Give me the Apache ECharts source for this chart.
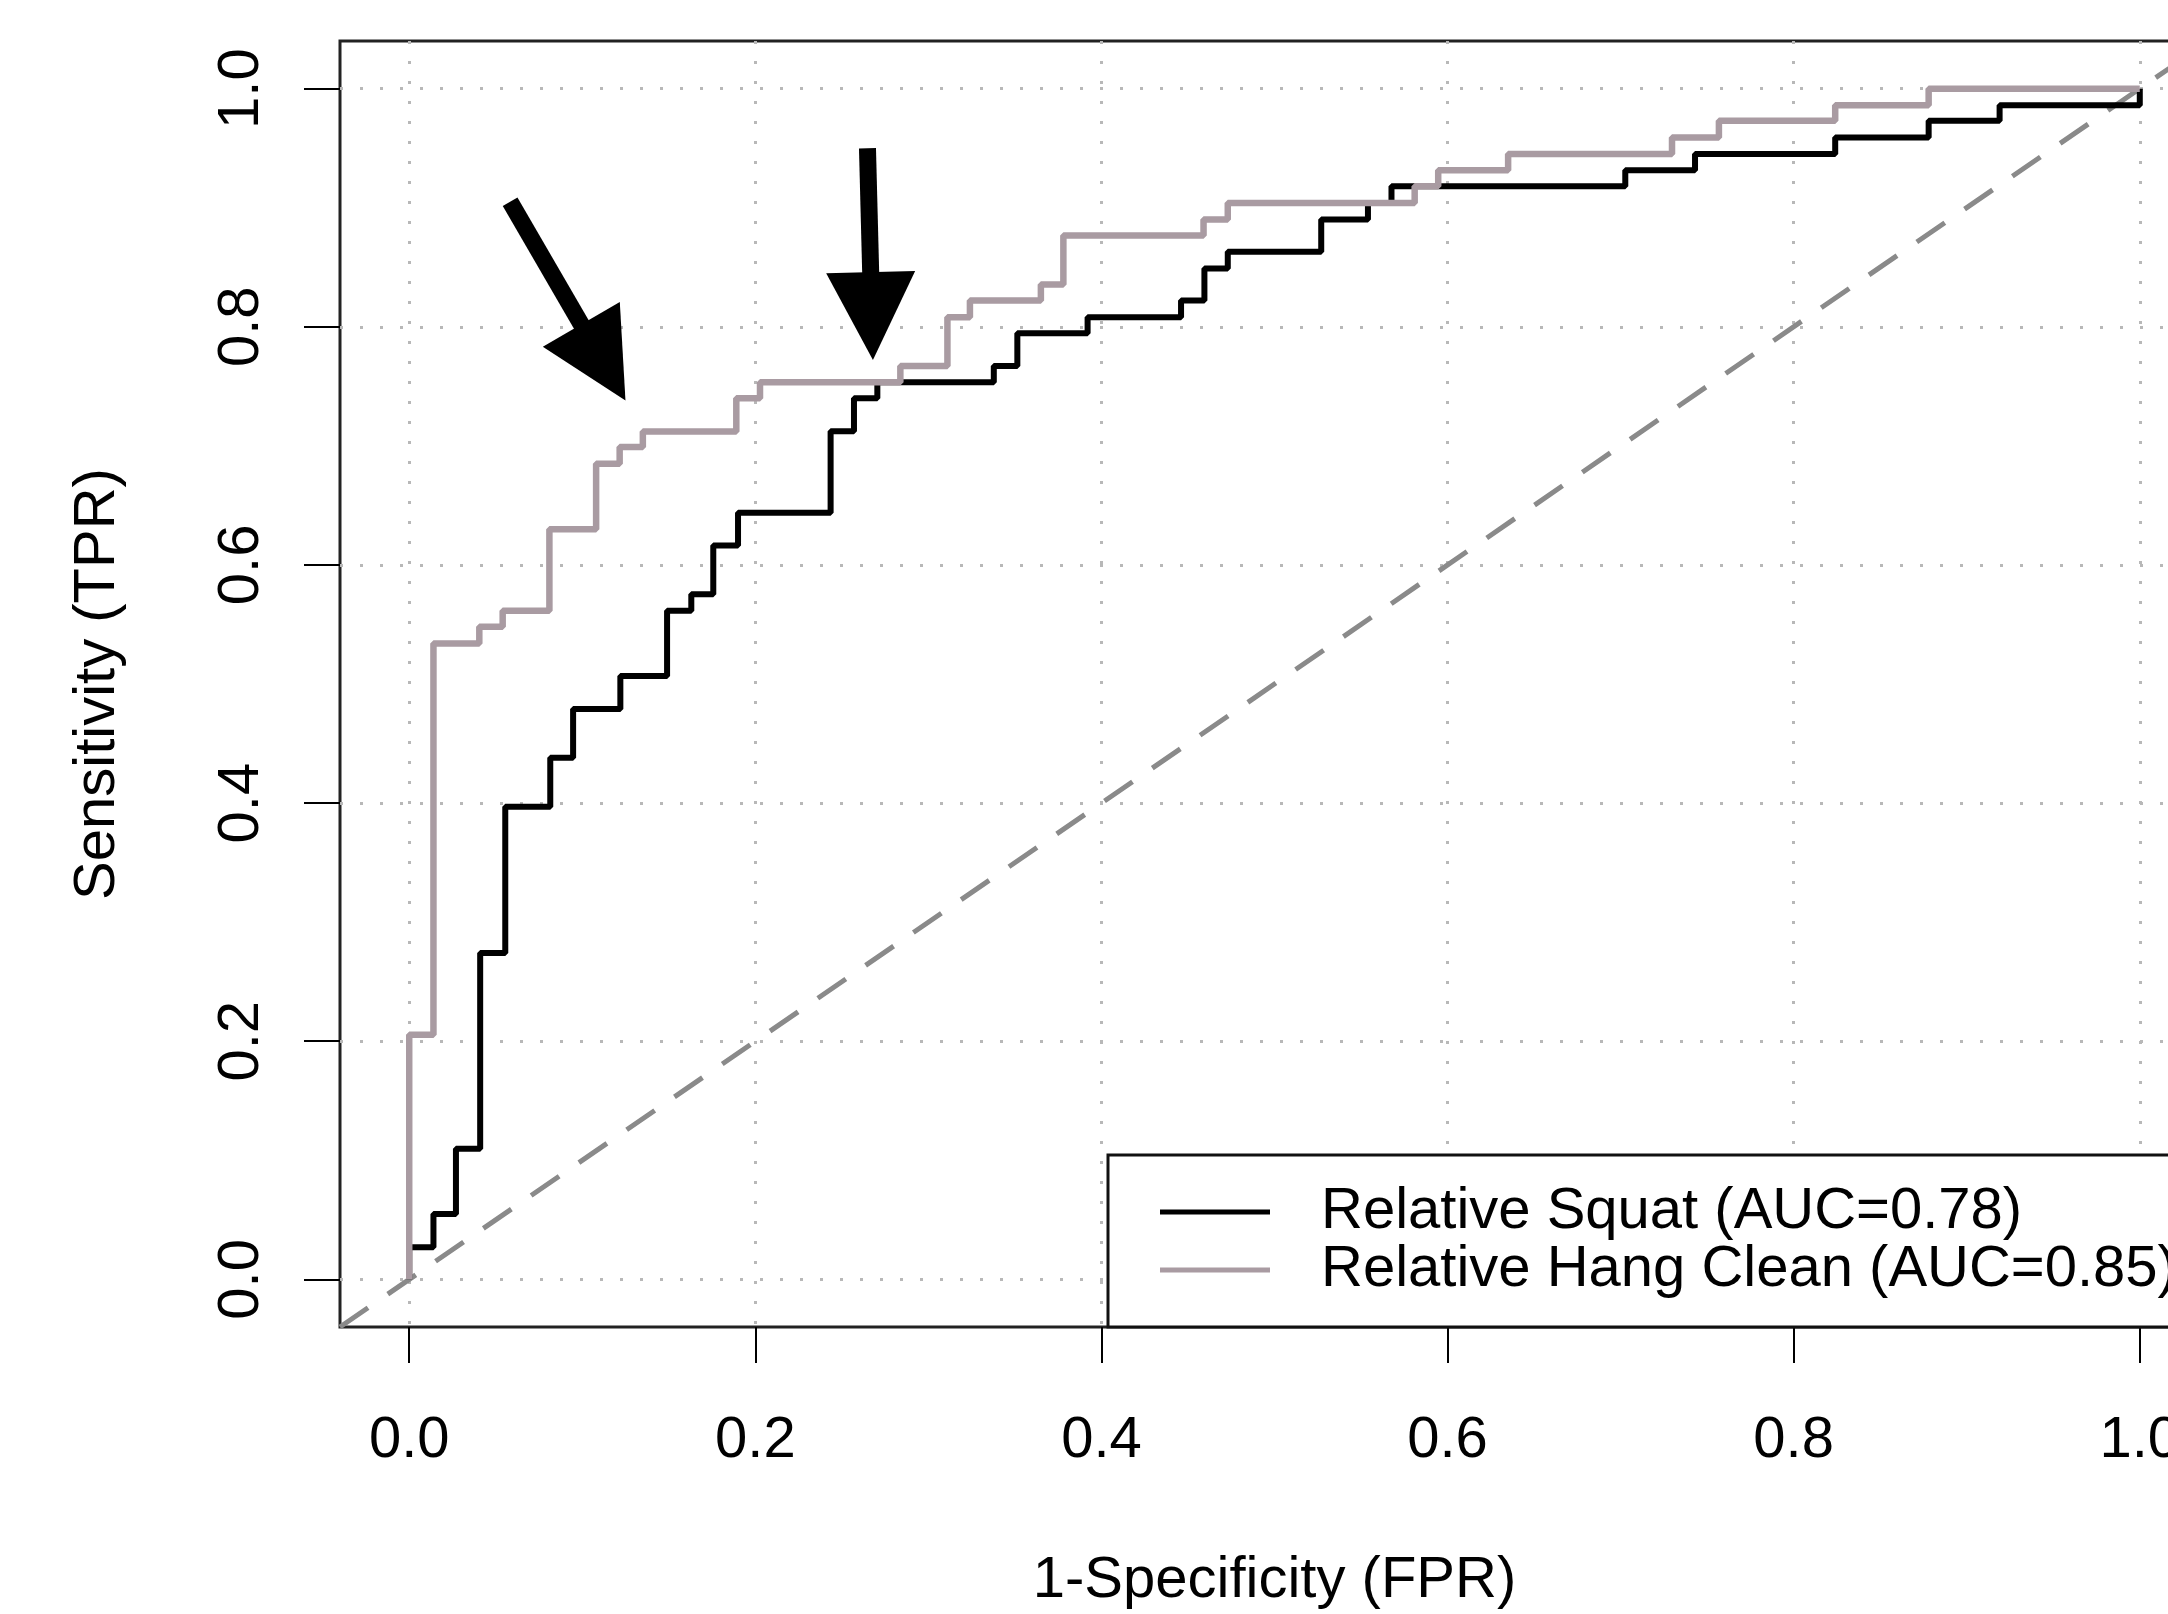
<!DOCTYPE html>
<html>
<head>
<meta charset="utf-8">
<title>ROC</title>
<script src="https://cdn.jsdelivr.net/npm/echarts@6/dist/echarts.min.js"></script>
<style>
  html, body { margin: 0; padding: 0; background: #fff; }
  #rocChart { width: 2168px; height: 1614px; }
</style>
</head>
<body>
<div id="rocChart"></div>
<script>
// tick positions shared by both axes
const tickValues = [0, 0.2, 0.4, 0.6, 0.8, 1.0];

// Relative Squat, step points (end of each flat run, level of that run)
const squatFpr = [0, 0.014, 0.027, 0.041, 0.0555, 0.0815, 0.0947, 0.122, 0.149, 0.163,
  0.1757, 0.190, 0.2435, 0.257, 0.2705, 0.3378, 0.3514, 0.392, 0.446, 0.4595,
  0.473, 0.527, 0.554, 0.5676, 0.7027, 0.743, 0.824, 0.878, 0.919, 1.0, 1.0];
const squatTpr = [0, 0.027, 0.0548, 0.1096, 0.274, 0.397, 0.438, 0.479, 0.5068, 0.5616,
  0.5753, 0.6164, 0.6438, 0.7123, 0.740, 0.7534, 0.767, 0.7945, 0.808, 0.822,
  0.849, 0.863, 0.890, 0.904, 0.918, 0.9315, 0.9452, 0.959, 0.973, 0.986, 1.0];

// Relative Hang Clean
const cleanFpr = [0, 0.014, 0.0405, 0.054, 0.081, 0.108, 0.1216, 0.135, 0.189, 0.2027,
  0.2838, 0.311, 0.324, 0.365, 0.378, 0.459, 0.473, 0.581, 0.5946, 0.635,
  0.7297, 0.7568, 0.824, 0.878, 1.0];
const cleanTpr = [0, 0.2055, 0.534, 0.548, 0.5616, 0.630, 0.685, 0.699, 0.712, 0.740,
  0.7534, 0.767, 0.808, 0.822, 0.8356, 0.8767, 0.890, 0.904, 0.918, 0.9315,
  0.9452, 0.959, 0.973, 0.986, 1.0];

// chance line, drawn corner to corner of the plot region
const diagX = [-0.04, 1.04];
const diagY = [-0.04, 1.04];

// annotation arrows: tail and head centre
const arrowTail = [[0.0583, 0.905], [0.2648, 0.950]];
const arrowHead = [[0.1122, 0.770], [0.2673, 0.809]];

const squatName = 'Relative Squat (AUC=0.78)';
const cleanName = 'Relative Hang Clean (AUC=0.85)';

const FONT = 'Liberation Sans';
const zip = (xs, ys) => xs.map((x, i) => [x, ys[i]]);

const gridLine = { color: '#b8b8b8', width: 3, type: [3, 17] };

function makeAxis(extra) {
  return Object.assign({
    type: 'value',
    min: -0.04,
    max: 1.04,
    nameLocation: 'middle',
    nameTextStyle: { fontFamily: FONT, fontSize: 58, color: '#000' },
    axisLine: { show: false, onZero: false },
    axisTick: {
      show: true,
      length: 36,
      customValues: tickValues,
      lineStyle: { color: '#000', width: 2 },
    },
    axisLabel: {
      customValues: tickValues,
      formatter: v => v.toFixed(1),
      fontFamily: FONT,
      fontSize: 58,
      color: '#000',
      margin: 85,
    },
    splitLine: { show: true, lineStyle: gridLine },
  }, extra);
}

const option = {
  animation: false,
  backgroundColor: '#fff',
  grid: {
    left: 340,
    top: 41,
    width: 1869,
    height: 1286,
    outerBoundsMode: 'none',
    containLabel: false,
    show: true,
    borderColor: '#222',
    borderWidth: 3,
    backgroundColor: 'transparent',
  },
  xAxis: makeAxis({ name: '1-Specificity (FPR)', nameGap: 225 }),
  yAxis: makeAxis({
    name: 'Sensitivity (TPR)',
    nameGap: 213,
    nameRotate: 90,
    axisLabel: {
      customValues: tickValues,
      formatter: v => v.toFixed(1),
      fontFamily: FONT,
      fontSize: 58,
      color: '#000',
      margin: 69,
      rotate: 90,
    },
  }),
  legend: {
    data: [squatName, cleanName],
    orient: 'vertical',
    left: 1108,
    top: 1155,
    padding: [28, 60, 28, 52],
    itemGap: 0,
    itemWidth: 110,
    itemHeight: 5,
    icon: 'rect',
    selectedMode: false,
    backgroundColor: '#fff',
    borderColor: '#111',
    borderWidth: 3,
    borderRadius: 0,
    textStyle: {
      fontFamily: FONT,
      fontSize: 58,
      lineHeight: 58,
      color: '#000',
      padding: [0, 0, 0, 46],
    },
  },
  series: [
    {
      name: 'chance',
      type: 'line',
      data: zip(diagX, diagY),
      showSymbol: false,
      silent: true,
      lineStyle: { color: '#8a8a8a', width: 5, type: [34, 24] },
      markLine: {
        silent: true,
        symbol: ['none', 'triangle'],
        symbolSize: [89, 88],
        label: { show: false },
        lineStyle: { color: '#000', width: 17, type: 'solid' },
        itemStyle: { color: '#000' },
        data: arrowTail.map((t, i) => [{ coord: t }, { coord: arrowHead[i] }]),
      },
      z: 3,
    },
    {
      name: squatName,
      type: 'line',
      step: 'start',
      data: zip(squatFpr, squatTpr),
      showSymbol: false,
      color: '#000',
      itemStyle: { color: '#000' },
      lineStyle: { color: '#000', width: 6 },
      z: 4,
    },
    {
      name: cleanName,
      type: 'line',
      step: 'start',
      data: zip(cleanFpr, cleanTpr),
      showSymbol: false,
      color: '#a99ba2',
      itemStyle: { color: '#a99ba2' },
      lineStyle: { color: '#a99ba2', width: 6.5 },
      z: 5,
    },
  ],
};

const myChart = echarts.init(document.getElementById('rocChart'));
myChart.setOption(option);
</script>
</body>
</html>
